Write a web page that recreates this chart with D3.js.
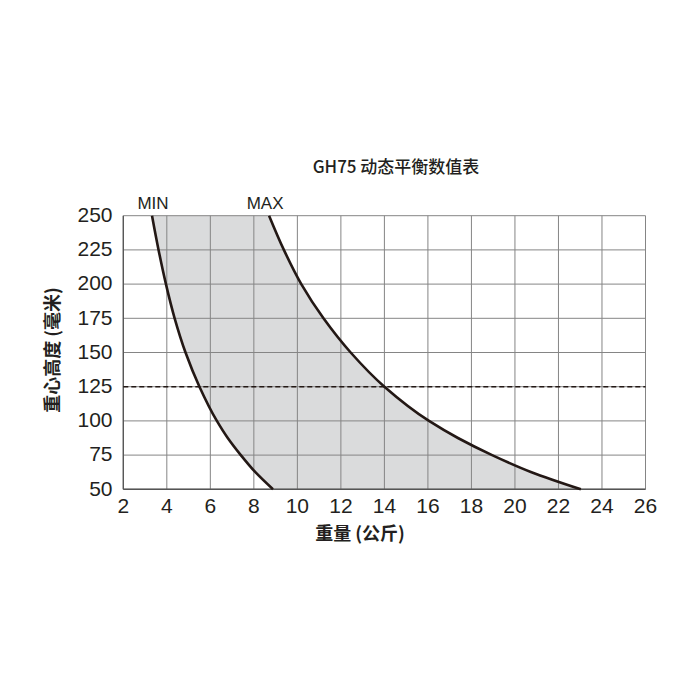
<!DOCTYPE html>
<html>
<head>
<meta charset="utf-8">
<script src="https://cdn.jsdelivr.net/npm/d3@7"></script>
<style>
  body { margin: 0; background: #fff; }
  text { font-family: "Liberation Sans", Arial, sans-serif; fill: #231f20; }
  .cjk { font-family: "Noto Sans CJK SC", "Liberation Sans", sans-serif; }
</style>
</head>
<body>
<svg id="chart" width="700" height="700"></svg>
<script>
// heights (mm) and the weight (kg) of each limit curve at that height
var heights = [250, 225, 200, 175, 150, 125, 100, 87.5, 75, 62.5, 50];
var minKg = [3.32, 3.62, 3.96, 4.36, 4.86, 5.5, 6.3, 6.8, 7.4, 8.07, 8.88];
var maxKg = [8.70, 9.38, 10.18, 11.2, 12.45, 14.0, 16.05, 17.38, 18.95, 20.76, 23.03];

var xTicks = [2, 4, 6, 8, 10, 12, 14, 16, 18, 20, 22, 24, 26];
var yTicks = [50, 75, 100, 125, 150, 175, 200, 225, 250];
var refHeight = 125;

var svg = d3.select("#chart");

var x = d3.scaleLinear().domain([2, 26]).range([123.3, 645.5]);
var y = d3.scaleLinear().domain([50, 250]).range([489.3, 215.7]);

var rows = heights.map(function(h, i) { return { h: h, lo: minKg[i], hi: maxKg[i] }; });

// shaded band between MIN and MAX
var band = d3.area()
    .y(function(d) { return y(d.h); })
    .x0(function(d) { return x(d.lo); })
    .x1(function(d) { return x(d.hi); })
    .curve(d3.curveMonotoneY);

svg.append("path")
    .datum(rows)
    .attr("d", band)
    .attr("fill", "#dadbdc");

// grid
svg.append("g").selectAll("line")
    .data(xTicks)
    .enter().append("line")
    .attr("x1", function(d) { return x(d); })
    .attr("x2", function(d) { return x(d); })
    .attr("y1", y(250))
    .attr("y2", y(50))
    .attr("stroke", "#858585")
    .attr("stroke-width", 1);

svg.append("g").selectAll("line")
    .data(yTicks)
    .enter().append("line")
    .attr("x1", x(2))
    .attr("x2", x(26))
    .attr("y1", function(d) { return y(d); })
    .attr("y2", function(d) { return y(d); })
    .attr("stroke", "#858585")
    .attr("stroke-width", 1);

// bottom and left axis lines a bit heavier
svg.append("line")
    .attr("x1", x(2)).attr("x2", x(26))
    .attr("y1", y(50)).attr("y2", y(50))
    .attr("stroke", "#555").attr("stroke-width", 1.5);
svg.append("line")
    .attr("x1", x(2)).attr("x2", x(2))
    .attr("y1", y(250)).attr("y2", y(50))
    .attr("stroke", "#555").attr("stroke-width", 1.3);

// dashed reference line
svg.append("line")
    .attr("x1", x(2)).attr("x2", x(26))
    .attr("y1", y(refHeight)).attr("y2", y(refHeight))
    .attr("stroke", "#231815")
    .attr("stroke-width", 1.4)
    .attr("stroke-dasharray", "5,3");

// the two limit curves
var lineMin = d3.line()
    .y(function(d) { return y(d.h); })
    .x(function(d) { return x(d.lo); })
    .curve(d3.curveMonotoneY);
var lineMax = d3.line()
    .y(function(d) { return y(d.h); })
    .x(function(d) { return x(d.hi); })
    .curve(d3.curveMonotoneY);

svg.append("path").datum(rows).attr("d", lineMin)
    .attr("fill", "none").attr("stroke", "#231815").attr("stroke-width", 2.6);
svg.append("path").datum(rows).attr("d", lineMax)
    .attr("fill", "none").attr("stroke", "#231815").attr("stroke-width", 2.6);

// tick labels
svg.append("g").selectAll("text")
    .data(xTicks)
    .enter().append("text")
    .attr("x", function(d) { return x(d); })
    .attr("y", 513)
    .attr("text-anchor", "middle")
    .attr("font-size", 21)
    .text(function(d) { return d; });

svg.append("g").selectAll("text")
    .data(yTicks)
    .enter().append("text")
    .attr("x", 112.5)
    .attr("y", function(d) { return y(d); })
    .attr("dy", "0.3em")
    .attr("text-anchor", "end")
    .attr("font-size", 21)
    .text(function(d) { return d; });

// curve labels
svg.append("text")
    .attr("x", x(minKg[0]) + 1).attr("y", 209)
    .attr("text-anchor", "middle").attr("font-size", 17)
    .text("MIN");
svg.append("text")
    .attr("x", x(maxKg[0]) - 4).attr("y", 209)
    .attr("text-anchor", "middle").attr("font-size", 17)
    .text("MAX");

// titles
svg.append("text")
    .attr("class", "cjk")
    .attr("x", 396).attr("y", 173)
    .attr("text-anchor", "middle").attr("font-size", 17)
    .attr("font-weight", 500)
    .text("GH75 动态平衡数值表");

svg.append("text")
    .attr("class", "cjk")
    .attr("x", 360).attr("y", 540)
    .attr("text-anchor", "middle").attr("font-size", 18)
    .attr("font-weight", "bold")
    .text("重量 (公斤)");

svg.append("text")
    .attr("class", "cjk")
    .attr("transform", "translate(59,350) rotate(-90)")
    .attr("text-anchor", "middle").attr("font-size", 18)
    .attr("font-weight", "bold")
    .text("重心高度 (毫米)");
</script>
</body>
</html>
